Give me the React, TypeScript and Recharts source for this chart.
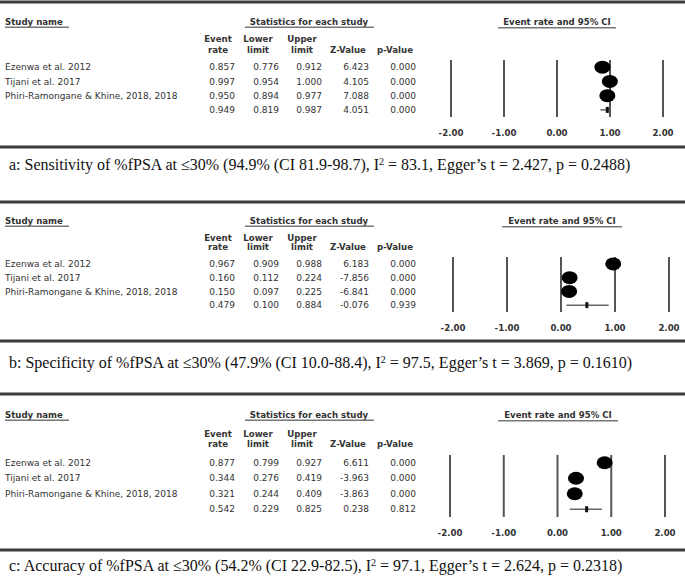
import React from 'react';
import { ScatterChart, Scatter, XAxis, YAxis, ReferenceLine, ErrorBar } from 'recharts';

const STUDIES = ['Ezenwa et al. 2012', 'Tijani et al. 2017', 'Phiri-Ramongane & Khine, 2018, 2018'];
const ROW_KEYS = [...STUDIES, 'Overall'];
const TICKS = [-2, -1, 0, 1, 2];

// a: sensitivity
const SENS_RATE = [0.857, 0.997, 0.95, 0.949];
const SENS_LOWER = [0.776, 0.954, 0.894, 0.819];
const SENS_UPPER = [0.912, 1.0, 0.977, 0.987];
const SENS_Z = [6.423, 4.105, 7.088, 4.051];
const SENS_P = [0.0, 0.0, 0.0, 0.0];

// b: specificity
const SPEC_RATE = [0.967, 0.16, 0.15, 0.479];
const SPEC_LOWER = [0.909, 0.112, 0.097, 0.1];
const SPEC_UPPER = [0.988, 0.224, 0.225, 0.884];
const SPEC_Z = [6.183, -7.856, -6.841, -0.076];
const SPEC_P = [0.0, 0.0, 0.0, 0.939];

// c: accuracy
const ACC_RATE = [0.877, 0.344, 0.321, 0.542];
const ACC_LOWER = [0.799, 0.276, 0.244, 0.229];
const ACC_UPPER = [0.927, 0.419, 0.409, 0.825];
const ACC_Z = [6.611, -3.963, -3.863, 0.238];
const ACC_P = [0.0, 0.0, 0.0, 0.812];

const FONT = '"DejaVu Sans", Arial, sans-serif';
const TEXT = '#333';
const COL_RIGHT = [235, 279, 322, 369, 416];

type Layout = {
  lineTop: number;
  plotTop: number;
  plotBottom: number;
  plotLeft: number;
  plotRight: number;
  bottomLine: number;
  captionY: number;
  studyY: number;
  headY: [number, number];
  eventLine: [number, number];
};

type Panel = {
  id: string;
  rate: number[];
  lower: number[];
  upper: number[];
  z: number[];
  p: number[];
  caption: [string, string];
  layout: Layout;
};

const PANELS: Panel[] = [
  {
    id: 'a',
    rate: SENS_RATE, lower: SENS_LOWER, upper: SENS_UPPER, z: SENS_Z, p: SENS_P,
    caption: ['a: Sensitivity of %fPSA at ≤30% (94.9% (CI 81.9-98.7), I', ' = 83.1, Egger’s t = 2.427, p = 0.2488)'],
    layout: {
      lineTop: 2, plotTop: 60, plotBottom: 117, plotLeft: 451, plotRight: 663,
      bottomLine: 147, captionY: 165, studyY: 22, headY: [39, 50], eventLine: [498, 616],
    },
  },
  {
    id: 'b',
    rate: SPEC_RATE, lower: SPEC_LOWER, upper: SPEC_UPPER, z: SPEC_Z, p: SPEC_P,
    caption: ['b: Specificity of %fPSA at ≤30% (47.9% (CI 10.0-88.4), I', ' = 97.5, Egger’s t = 3.869, p = 0.1610)'],
    layout: {
      lineTop: 202, plotTop: 257, plotBottom: 312, plotLeft: 453, plotRight: 669,
      bottomLine: 341, captionY: 363, studyY: 221, headY: [238, 247], eventLine: [502, 622],
    },
  },
  {
    id: 'c',
    rate: ACC_RATE, lower: ACC_LOWER, upper: ACC_UPPER, z: ACC_Z, p: ACC_P,
    caption: ['c: Accuracy of %fPSA at ≤30% (54.2% (CI 22.9-82.5), I', ' = 97.1, Egger’s t = 2.624, p = 0.2318)'],
    layout: {
      lineTop: 394, plotTop: 455, plotBottom: 517, plotLeft: 450, plotRight: 665,
      bottomLine: 550, captionY: 566, studyY: 415, headY: [434, 444], eventLine: [498, 618],
    },
  },
];

const RowTick = (props: any) => {
  const { y, payload, panel } = props;
  const i = ROW_KEYS.indexOf(payload.value);
  if (i < 0) return null;
  const cells = [panel.rate[i], panel.lower[i], panel.upper[i], panel.z[i], panel.p[i]].map((v: number) => v.toFixed(3));
  return (
    <g fontFamily={FONT} fontSize={9}>
      {i < STUDIES.length && (
        <text x={5} y={y} dy="0.35em" fill={TEXT}>{STUDIES[i]}</text>
      )}
      {cells.map((c: string, k: number) => (
        <text key={k} x={COL_RIGHT[k]} y={y} dy="0.35em" textAnchor="end" fill={TEXT}>{c}</text>
      ))}
    </g>
  );
};

const Marker = (props: any) => {
  const { cx, cy, payload } = props;
  if (cx == null || cy == null) return null;
  if (payload.summary) {
    return <rect x={cx - 1.5} y={cy - 3} width={3} height={6} fill="#111" />;
  }
  return <ellipse cx={cx} cy={cy} rx={8} ry={6.5} fill="#000" />;
};

const PanelHeaders = ({ layout }: { layout: Layout }) => {
  const [h1, h2] = layout.headY;
  const evMid = (layout.eventLine[0] + layout.eventLine[1]) / 2;
  const bold = { fontFamily: FONT, fontSize: 8.6, fontWeight: 'bold' as const, fill: TEXT };
  return (
    <g>
      <rect x={0} y={layout.lineTop - 1.5} width={685} height={3} fill="#3a3a3a" />
      <rect x={0} y={layout.bottomLine - 1.5} width={685} height={3} fill="#3a3a3a" />
      <text x={5} y={layout.studyY} dy="0.35em" {...bold}>Study name</text>
      <rect x={5} y={layout.studyY + 4.5} width={64} height={1.5} fill="#777" />
      <text x={309} y={layout.studyY} dy="0.35em" textAnchor="middle" {...bold}>Statistics for each study</text>
      <rect x={245} y={layout.studyY + 4.5} width={129} height={1.5} fill="#777" />
      <text x={evMid} y={layout.studyY} dy="0.35em" textAnchor="middle" {...bold}>Event rate and 95% CI</text>
      <rect x={layout.eventLine[0]} y={layout.studyY + 5} width={layout.eventLine[1] - layout.eventLine[0]} height={1.5} fill="#777" />
      <text x={218} y={h1} dy="0.35em" textAnchor="middle" {...bold}>Event</text>
      <text x={218} y={h2} dy="0.35em" textAnchor="middle" {...bold}>rate</text>
      <text x={258} y={h1} dy="0.35em" textAnchor="middle" {...bold}>Lower</text>
      <text x={258} y={h2} dy="0.35em" textAnchor="middle" {...bold}>limit</text>
      <text x={302} y={h1} dy="0.35em" textAnchor="middle" {...bold}>Upper</text>
      <text x={302} y={h2} dy="0.35em" textAnchor="middle" {...bold}>limit</text>
      <text x={348} y={h2} dy="0.35em" textAnchor="middle" {...bold}>Z-Value</text>
      <text x={395} y={h2} dy="0.35em" textAnchor="middle" {...bold}>p-Value</text>
    </g>
  );
};

const ForestPanel = ({ panel }: { panel: Panel }) => {
  const L = panel.layout;
  const axisH = 30;
  const chartH = L.plotBottom + axisH - L.lineTop;
  const rows = ROW_KEYS.map((key, i) => ({
    key,
    rate: panel.rate[i],
    err: [panel.rate[i] - panel.lower[i], panel.upper[i] - panel.rate[i]],
    summary: i === ROW_KEYS.length - 1,
  }));
  return (
    <div style={{ position: 'absolute', left: 0, top: L.lineTop }}>
      <ScatterChart
        width={685}
        height={chartH}
        margin={{ top: L.plotTop - L.lineTop, right: 685 - L.plotRight, bottom: 0, left: 0 }}
      >
        <XAxis
          type="number"
          dataKey="rate"
          domain={[-2, 2]}
          ticks={TICKS}
          tickFormatter={(v: number) => v.toFixed(2)}
          axisLine={false}
          tickLine={false}
          height={axisH}
          tickMargin={7}
          tick={{ fontSize: 8.6, fontWeight: 'bold', fill: TEXT, fontFamily: FONT }}
        />
        <YAxis
          type="category"
          dataKey="key"
          width={L.plotLeft}
          axisLine={false}
          tickLine={false}
          interval={0}
          reversed
          tick={(p: any) => <RowTick {...p} panel={panel} />}
        />
        {TICKS.map((t) => (
          <ReferenceLine key={t} x={t} stroke="#555" strokeWidth={2} />
        ))}
        <Scatter data={rows} shape={<Marker />} isAnimationActive={false}>
          <ErrorBar dataKey="err" direction="x" width={0} stroke="#666" strokeWidth={1.5} />
        </Scatter>
      </ScatterChart>
    </div>
  );
};

export default function App() {
  return (
    <div style={{ position: 'absolute', left: 0, top: 0, width: 685, height: 578, background: '#fff', overflow: 'hidden' }}>
      <svg width={685} height={578} style={{ position: 'absolute', left: 0, top: 0 }}>
        {PANELS.map((p) => (
          <PanelHeaders key={p.id} layout={p.layout} />
        ))}
      </svg>
      {PANELS.map((p) => (
        <ForestPanel key={p.id} panel={p} />
      ))}
      {PANELS.map((p) => (
        <div
          key={p.id}
          style={{
            position: 'absolute',
            left: 9,
            top: p.layout.captionY - 11,
            height: 22,
            lineHeight: '22px',
            fontFamily: '"Liberation Serif", "Times New Roman", serif',
            fontSize: 16,
            color: '#111',
            whiteSpace: 'nowrap',
          }}
        >
          {p.caption[0]}
          <span style={{ fontSize: 10, position: 'relative', top: -5 }}>2</span>
          {p.caption[1]}
        </div>
      ))}
    </div>
  );
}
